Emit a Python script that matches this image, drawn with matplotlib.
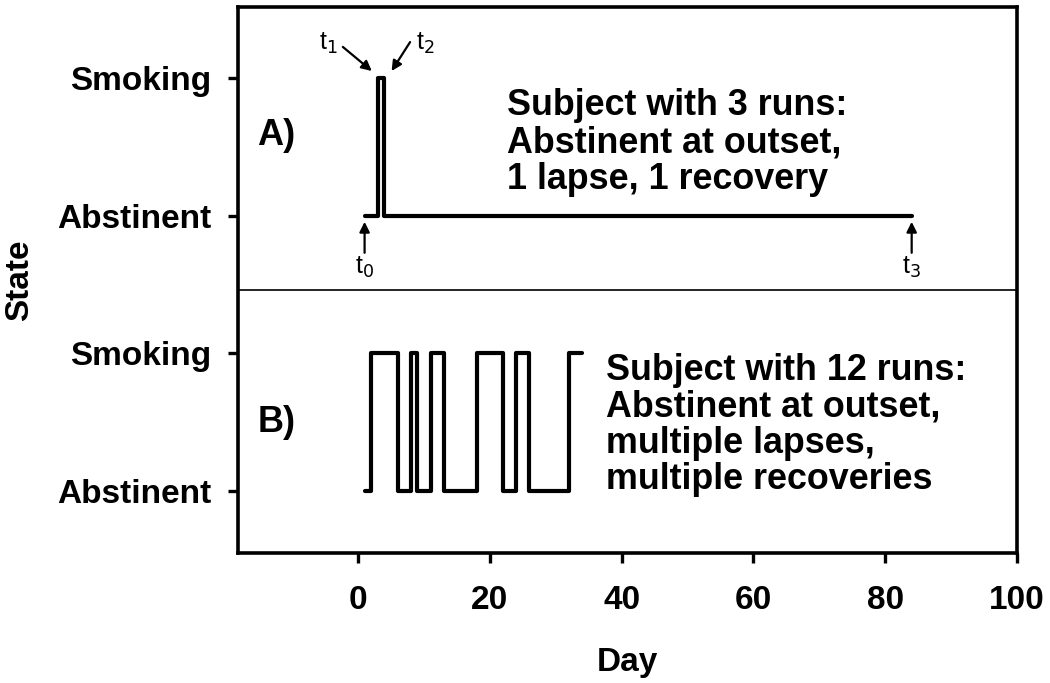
import matplotlib.pyplot as plt
import numpy as np

plt.rcParams['font.family'] = ['Liberation Sans', 'DejaVu Sans']

# panel A: day of each change, state from that day on (0 = abstinent, 1 = smoking)
days_a = [1, 3, 4, 84]
state_a = [0, 1, 0, 0]
# panel B
days_b = [1, 2, 6, 8, 9, 11, 13, 18, 22, 24, 26, 32, 34]
state_b = [0, 1, 0, 1, 0, 1, 0, 1, 0, 1, 0, 1, 1]

ytick_labels = ['Abstinent', 'Smoking', 'Abstinent', 'Smoking']
xticks = [0, 20, 40, 60, 80, 100]
text_a = 'Subject with 3 runs:\nAbstinent at outset,\n1 lapse, 1 recovery'
text_b = 'Subject with 12 runs:\nAbstinent at outset,\nmultiple lapses,\nmultiple recoveries'

off_a = 2  # panel A sits above panel B

fig = plt.figure(figsize=(10.5, 6.83), dpi=100)
ax = fig.add_axes([0.2267, 0.1903, 0.742, 0.7995])

lw = 3.0
ax.step(days_a, np.array(state_a) + off_a, where='post', color='k', lw=lw,
        solid_joinstyle='round', solid_capstyle='round')
ax.step(days_b, state_b, where='post', color='k', lw=lw,
        solid_joinstyle='round', solid_capstyle='round')

# separator between panels
ax.axhline(1.46, color='k', lw=1.2)

ax.set_xlim(-18.2, 100)
ax.set_ylim(-0.45, 3.515)
ax.set_xticks(xticks)
ax.set_yticks([0, 1, 2, 3])
ax.set_yticklabels(ytick_labels)

for s in ax.spines.values():
    s.set_linewidth(2.6)
ax.tick_params(axis='both', direction='out', length=7, width=2.4,
               labelsize=24, pad=12)
ax.tick_params(axis='x', pad=16)
for lab in ax.get_xticklabels() + ax.get_yticklabels():
    lab.set_fontweight('bold')

ax.set_xlabel('Day', fontsize=24, fontweight='bold', labelpad=22)
ax.set_ylabel('State', fontsize=24, fontweight='bold', labelpad=16)

ax.text(-12.4, 2.58, 'A)', fontsize=26, fontweight='bold', ha='center', va='center')
ax.text(-12.4, 0.5, 'B)', fontsize=26, fontweight='bold', ha='center', va='center')

ax.text(22.6, 2.53, text_a, fontsize=25.8, fontweight='bold', ha='left',
        va='center', linespacing=1.08)
ax.text(37.6, 0.48, text_b, fontsize=25.8, fontweight='bold', ha='left',
        va='center', linespacing=1.05)

# time markers
ap = dict(arrowstyle='-|>', color='k', lw=1.6, mutation_scale=15,
          shrinkA=0, shrinkB=0)
tfs = 18
ax.annotate('', xy=(days_a[1] - 0.9, off_a + 1.05), xytext=(-2.3, 3.225),
            arrowprops=ap)
ax.text(-4.5, 3.25, 't$_1$', fontsize=tfs, ha='center', va='center')
ax.annotate('', xy=(days_a[2] + 1.1, off_a + 1.05), xytext=(7.9, 3.26),
            arrowprops=ap)
ax.text(10.2, 3.25, 't$_2$', fontsize=tfs, ha='center', va='center')
ax.annotate('', xy=(days_a[0], off_a - 0.045), xytext=(days_a[0], 1.73),
            arrowprops=ap)
ax.text(days_a[0], 1.625, 't$_0$', fontsize=tfs, ha='center', va='center')
ax.annotate('', xy=(days_a[-1], off_a - 0.045), xytext=(days_a[-1], 1.73),
            arrowprops=ap)
ax.text(days_a[-1], 1.625, 't$_3$', fontsize=tfs, ha='center', va='center')

fig.savefig('out.png', dpi=100)
